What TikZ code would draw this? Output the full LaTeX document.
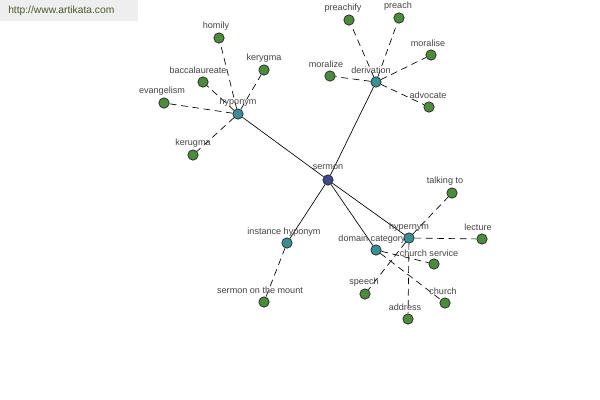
\documentclass[tikz,border=0pt]{standalone}
\usepackage{fontspec}
\setmainfont{Liberation Sans}
\usetikzlibrary{backgrounds}
\definecolor{leafgreen}{HTML}{4C8A3C}
\definecolor{relteal}{HTML}{3A8F94}
\definecolor{rootnavy}{HTML}{3F4A8A}
\definecolor{labelgray}{HTML}{444444}
\definecolor{urlgreen}{HTML}{4A5A30}
\definecolor{urlbox}{HTML}{EEEEEE}
\tikzset{
  dot/.style={circle, draw=black!85, line width=0.5pt, minimum size=7.8pt, inner sep=0pt},
  leaf/.style={dot, fill=leafgreen},
  rel/.style={dot, fill=relteal},
  root/.style={dot, fill=rootnavy},
  lbl/.style={font=\fontsize{6.8}{7}\selectfont, text=labelgray, inner sep=0pt},
  solidedge/.style={draw=black, line width=0.5pt},
  dashedge/.style={draw=black, line width=0.5pt, dash pattern=on 5pt off 3.5pt},
}
\begin{document}
\begin{tikzpicture}[x=0.75pt, y=-0.75pt]
\useasboundingbox (0,0) rectangle (600,400);
% url box
\node[fill=urlbox, minimum width=103.5pt, minimum height=15.75pt, inner sep=0pt, anchor=north west] (urlbox) at (0,0) {};
\node[font=\fontsize{7.7}{8}\selectfont, text=urlgreen, anchor=west, inner sep=0pt] (url) at (8,11) {http://www.artikata.com};

% root and relation nodes
\node[root] (sermon) at (328,180) {};
\node[rel] (hyponym) at (238,114) {};
\node[rel] (derivation) at (376,82) {};
\node[rel] (hypernym) at (409,238) {};
\node[rel] (domain) at (376,250) {};
\node[rel] (instance) at (287,243) {};

% leaves
\node[leaf] (homily) at (219,38) {};
\node[leaf] (kerygma) at (264,70) {};
\node[leaf] (baccalaureate) at (203,82) {};
\node[leaf] (evangelism) at (164,103) {};
\node[leaf] (kerugma) at (193,155) {};
\node[leaf] (preachify) at (349,20) {};
\node[leaf] (preach) at (399,18) {};
\node[leaf] (moralise) at (431,55) {};
\node[leaf] (moralize) at (330,76) {};
\node[leaf] (advocate) at (429,107) {};
\node[leaf] (talkingto) at (452,193) {};
\node[leaf] (lecture) at (482,239) {};
\node[leaf] (churchservice) at (434,264) {};
\node[leaf] (church) at (445,303) {};
\node[leaf] (address) at (408,319) {};
\node[leaf] (speech) at (365,294) {};
\node[leaf] (mount) at (264,302) {};

% labels
\node[lbl] (sermon-t) at (328,167) {sermon};
\node[lbl] (hyponym-t) at (238,102) {hyponym};
\node[lbl] (derivation-t) at (371,70) {derivation};
\node[lbl] (hypernym-t) at (409,227) {hypernym};
\node[lbl] (domain-t) at (372,239) {domain category};
\node[lbl] (instance-t) at (284,232) {instance hyponym};
\node[lbl] (homily-t) at (216,26) {homily};
\node[lbl] (kerygma-t) at (264,58) {kerygma};
\node[lbl] (baccalaureate-t) at (198,70) {baccalaureate};
\node[lbl] (evangelism-t) at (162,91) {evangelism};
\node[lbl] (kerugma-t) at (193,143) {kerugma};
\node[lbl] (preachify-t) at (343,8) {preachify};
\node[lbl] (preach-t) at (398,6) {preach};
\node[lbl] (moralise-t) at (428,43) {moralise};
\node[lbl] (moralize-t) at (326,64) {moralize};
\node[lbl] (advocate-t) at (428,95) {advocate};
\node[lbl] (talkingto-t) at (445,181) {talking to};
\node[lbl] (lecture-t) at (478,227) {lecture};
\node[lbl] (churchservice-t) at (429,253) {church service};
\node[lbl] (church-t) at (443,291) {church};
\node[lbl] (address-t) at (405,307) {address};
\node[lbl] (speech-t) at (364,282) {speech};
\node[lbl] (mount-t) at (260,290) {sermon on the mount};

\begin{scope}[on background layer]
\fill[white] (0,0) rectangle (600,400);
\draw[solidedge] (sermon) -- (hyponym);
\draw[solidedge] (sermon) -- (derivation);
\draw[solidedge] (sermon) -- (hypernym);
\draw[solidedge] (sermon) -- (domain);
\draw[solidedge] (sermon) -- (instance);
\draw[dashedge] (hyponym) -- (homily);
\draw[dashedge] (hyponym) -- (kerygma);
\draw[dashedge] (hyponym) -- (baccalaureate);
\draw[dashedge] (hyponym) -- (evangelism);
\draw[dashedge] (hyponym) -- (kerugma);
\draw[dashedge] (derivation) -- (preachify);
\draw[dashedge] (derivation) -- (preach);
\draw[dashedge] (derivation) -- (moralise);
\draw[dashedge] (derivation) -- (moralize);
\draw[dashedge] (derivation) -- (advocate);
\draw[dashedge] (hypernym) -- (talkingto);
\draw[dashedge] (hypernym) -- (lecture);
\draw[dashedge] (hypernym) -- (address);
\draw[dashedge] (hypernym) -- (speech);
\draw[dashedge] (domain) -- (churchservice);
\draw[dashedge] (domain) -- (church);
\draw[dashedge] (instance) -- (mount);
\end{scope}
\end{tikzpicture}
\end{document}
